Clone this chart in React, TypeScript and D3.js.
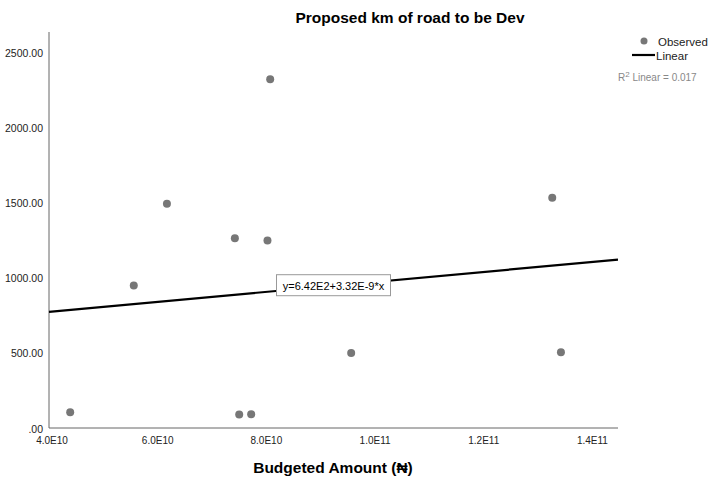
import React from 'react'
import * as d3 from 'd3'

// observed points: budgeted amount (naira) vs proposed km of road
const budget = [4.39e10, 5.56e10, 6.17e10, 7.42e10, 7.50e10, 7.72e10, 8.02e10, 8.07e10, 9.56e10, 1.326e11, 1.342e11]
const km = [105, 950, 1495, 1265, 90, 92, 1250, 2325, 500, 1535, 505]

const xTicks = [4e10, 6e10, 8e10, 1e11, 1.2e11, 1.4e11]
const xTickLabels = ['4.0E10', '6.0E10', '8.0E10', '1.0E11', '1.2E11', '1.4E11']
const yTicks = [0, 500, 1000, 1500, 2000, 2500]
const yTickLabels = ['.00', '500.00', '1000.00', '1500.00', '2000.00', '2500.00']

const intercept = 642
const slope = 3.32e-9

const font = '"Liberation Sans", Arial, sans-serif'

export default function App() {
  const width = 712
  const height = 477
  const left = 49
  const right = 618
  const top = 32
  const bottom = 428

  const x = d3.scaleLinear().domain([4e10, 1.447e11]).range([left, right])
  const y = d3.scaleLinear().domain([0, 2640]).range([bottom, top])

  const line = d3.line<number>()
    .x(d => x(d))
    .y(d => y(intercept + slope * d))
  const xDom = x.domain()

  const boxCx = (left + right) / 2
  const boxCy = y(intercept + slope * x.invert(boxCx))

  return (
    <svg width={width} height={height} style={{ position: 'absolute', left: 0, top: 0 }} fontFamily={font}>
      <rect width={width} height={height} fill="#fff" />
      <text x={410} y={23} textAnchor="middle" fontSize={15.5} fontWeight="bold" fill="#000">
        Proposed km of road to be Dev
      </text>

      {/* axes */}
      <line x1={left} x2={left} y1={top} y2={bottom} stroke="#666" strokeWidth={1} />
      <line x1={left} x2={right} y1={bottom} y2={bottom} stroke="#666" strokeWidth={1} />

      {yTicks.map((t, i) => (
        <text key={t} x={43} y={y(t) + (t === 0 ? 5 : 4)} textAnchor="end" fontSize={10.5} fill="#222">
          {yTickLabels[i]}
        </text>
      ))}
      {xTicks.map((t, i) => (
        <text key={t} x={x(t) + (i === 0 ? 3 : 0)} y={444} textAnchor="middle" fontSize={10} fill="#222">
          {xTickLabels[i]}
        </text>
      ))}

      <text x={333} y={473} textAnchor="middle" fontSize={15.5} fontWeight="bold" fill="#000">
        Budgeted Amount (₦)
      </text>

      {/* fit line */}
      <path d={line(xDom) || ''} fill="none" stroke="#000" strokeWidth={2.2} />

      {budget.map((b, i) => (
        <circle key={i} cx={x(b)} cy={y(km[i])} r={4} fill="#777" />
      ))}

      <rect x={boxCx - 57} y={boxCy - 11} width={114} height={21} fill="#fff" stroke="#999" strokeWidth={1} />
      <text x={boxCx} y={boxCy + 4} textAnchor="middle" fontSize={11} fill="#000">
        y=6.42E2+3.32E-9*x
      </text>

      {/* legend */}
      <circle cx={644} cy={41} r={3.5} fill="#777" />
      <text x={658} y={46} fontSize={11.5} fill="#222">Observed</text>
      <line x1={632} x2={655} y1={55} y2={55} stroke="#000" strokeWidth={2.2} />
      <text x={656} y={60} fontSize={11.5} fill="#222">Linear</text>
      <text x={618} y={81} fontSize={10} fill="#888">
        R<tspan dy={-4} fontSize={8}>2</tspan><tspan dy={4}> Linear = 0.017</tspan>
      </text>
    </svg>
  )
}
